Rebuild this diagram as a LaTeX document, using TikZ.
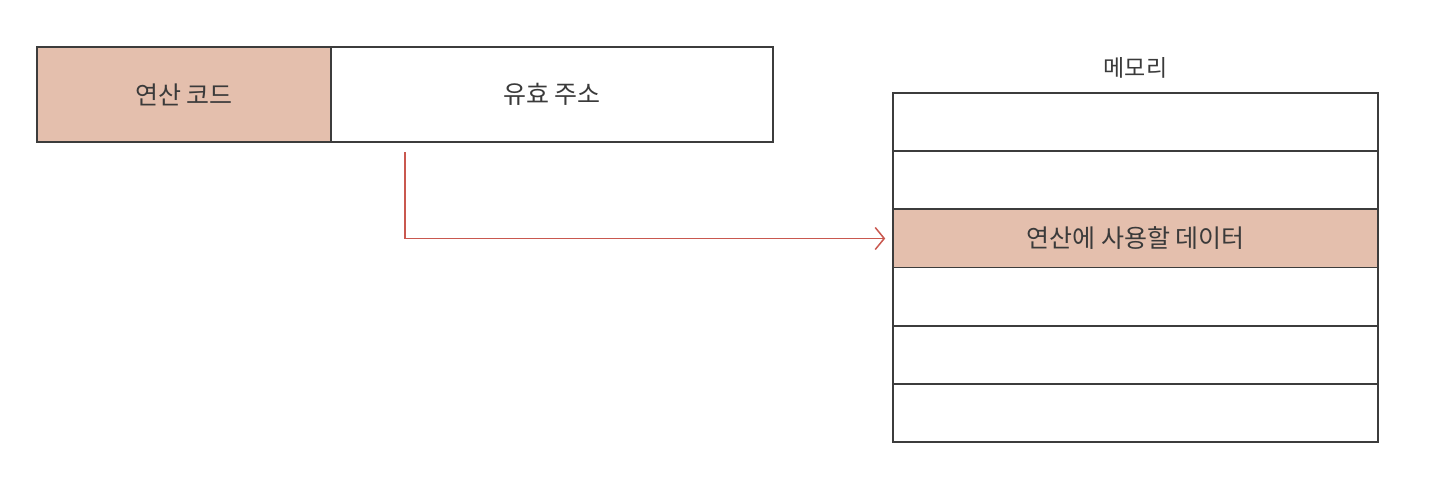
\documentclass[tikz,border=0pt]{standalone}
\usepackage{fontspec}
\newfontfamily\kr{Noto Sans CJK KR}
\usetikzlibrary{arrows.meta}
\definecolor{linec}{HTML}{3C3C3C}
\definecolor{hlc}{HTML}{E4BFAD}
\definecolor{arrowc}{HTML}{C9584F}
\definecolor{textc}{HTML}{3A3A3A}
\begin{document}
\begin{tikzpicture}[x=1pt,y=-1pt,
  cell/.style={draw=linec, line width=1.6pt, inner sep=0pt, text=textc,
    font=\kr\fontsize{25}{30}\selectfont},
  hl/.style={fill=hlc},
  memrow/.style={cell, minimum width=485pt, minimum height=58.17pt},
  lbl/.style={inner sep=0pt, text=textc, font=\kr\fontsize{23}{28}\selectfont},
  link/.style={draw=arrowc, line width=1.5pt, -{Straight Barb[length=9pt,width=22pt,line width=1.5pt]}}]
\useasboundingbox (0,0) rectangle (1440,490);
% instruction
\node[cell, hl, minimum width=294pt, minimum height=95pt] (op) at (184,94.5) {연산 코드};
\node[cell, minimum width=442pt, minimum height=95pt] (addr) at (552,94.5) {유효 주소};
% memory
\node[memrow] (m1) at (1135.5,122) {};
\node[memrow] (m2) at (1135.5,180.2) {};
\node[memrow, hl] (m3) at (1135.5,238.5) {연산에 사용할 데이터};
\node[memrow] (m4) at (1135.5,296.7) {};
\node[memrow] (m5) at (1135.5,354.8) {};
\node[memrow] (m6) at (1135.5,413) {};
\node[lbl] (memlbl) at (1135.5,68) {메모리};
% arrow
\coordinate (s) at (405,152);
\draw[link, shorten >=7pt] (s) |- (m3.west);
\end{tikzpicture}
\end{document}
